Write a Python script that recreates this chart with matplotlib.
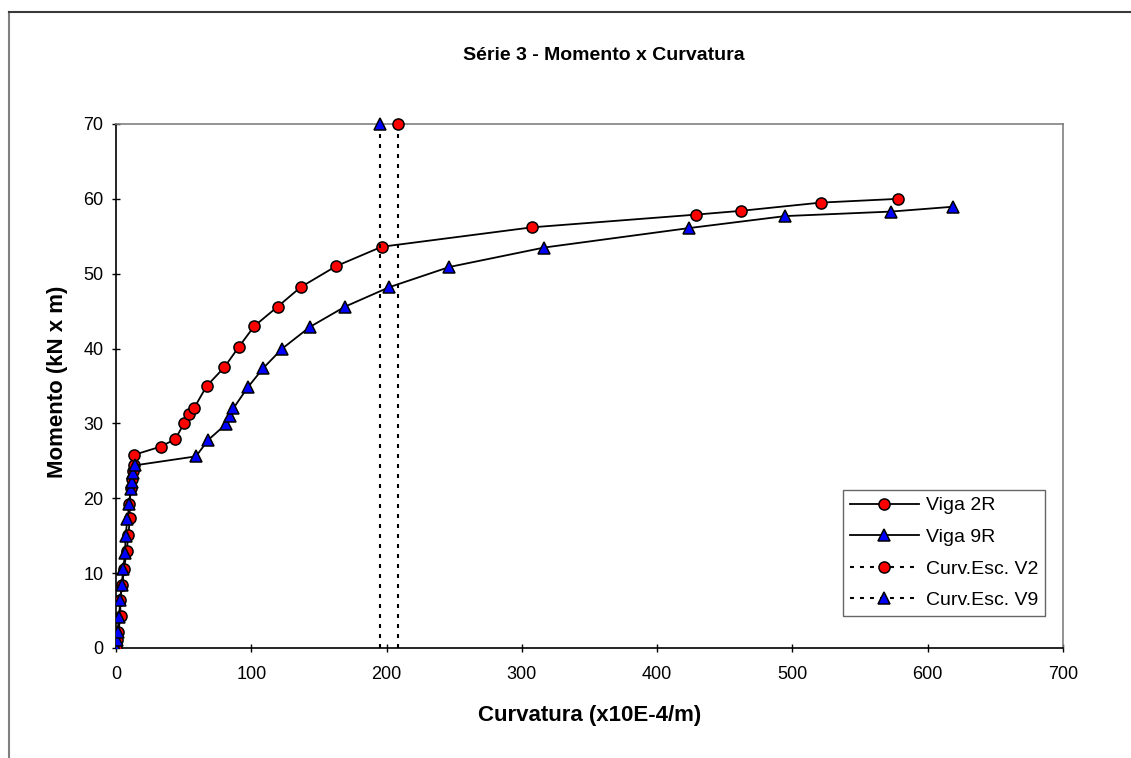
import matplotlib
matplotlib.use("Agg")
import matplotlib.pyplot as plt
from matplotlib.lines import Line2D

# Viga 2R: curvature (x10E-4/m) and moment (kN x m)
v2_curv = [0, 0.5, 1.7, 3.4, 3.0, 4.7, 5.9, 7.9, 9.1, 10.3, 9.9, 10.8, 11.8, 12.4,
           13.0, 13.3, 33.0, 43.8, 50.3, 53.7, 57.9, 67.0, 80.1, 90.7, 102.2,
           119.5, 136.5, 162.6, 196.4, 307.7, 429.0, 462.0, 521.0, 578.0]
v2_mom = [0, 1.1, 2.2, 4.3, 6.4, 8.4, 10.6, 12.9, 15.1, 17.3, 19.3, 21.4, 22.6, 23.6,
          24.5, 25.8, 26.9, 27.9, 30.0, 31.2, 32.1, 35.0, 37.5, 40.2, 43.0,
          45.6, 48.2, 51.0, 53.6, 56.2, 57.9, 58.4, 59.5, 60.0]

# Viga 9R
v9_curv = [0, 0.5, 1.2, 2.2, 3.2, 4.2, 5.4, 6.7, 7.1, 8.4, 9.9, 11.1, 11.6, 12.8,
           14.0, 59.1, 68.2, 81.3, 84.3, 86.7, 97.3, 108.9, 122.9, 143.4, 169.3,
           202.0, 246.4, 316.6, 423.7, 494.7, 572.8, 618.9]
v9_mom = [0, 1.1, 2.2, 4.2, 6.4, 8.4, 10.6, 12.7, 15.0, 17.2, 19.2, 21.3, 22.2, 23.4,
          24.4, 25.6, 27.8, 29.9, 31.0, 32.0, 34.8, 37.4, 40.0, 42.9, 45.6,
          48.2, 50.9, 53.5, 56.1, 57.7, 58.3, 58.95]

# Yield curvature markers (vertical reference lines)
esc_v2_curv = [208.4, 208.4]
esc_v9_curv = [195.4, 195.4]
esc_mom = [0, 70]

x_ticks = [0, 100, 200, 300, 400, 500, 600, 700]
y_ticks = [0, 10, 20, 30, 40, 50, 60, 70]

plt.rcParams['font.family'] = ['Liberation Sans', 'DejaVu Sans']

W, H = 1131, 758
fig = plt.figure(figsize=(W / 100, H / 100), dpi=100)
fig.patch.set_facecolor('white')

left, right, top, bottom = 116, 1063, 124, 648
ax = fig.add_axes([left / W, 1 - bottom / H, (right - left) / W, (bottom - top) / H])

ms = 8.0
lw = 1.3
dots = (0, (1.9, 2.9))
red = '#ff0000'
blue = '#0000ff'

ax.plot(v2_curv, v2_mom, color='black', lw=lw, marker='o', ms=ms,
        mfc=red, mec='black', mew=1.1, label='Viga 2R', zorder=3)
ax.plot(v9_curv, v9_mom, color='black', lw=lw, marker='^', ms=ms,
        mfc=blue, mec='black', mew=1.1, label='Viga 9R', zorder=4)
ax.plot(esc_v2_curv, esc_mom, color='black', lw=1.5, ls=dots, marker='o', ms=ms,
        mfc=red, mec='black', mew=1.1, markevery=[1], label='Curv.Esc. V2',
        clip_on=False, zorder=5)
ax.plot(esc_v9_curv, esc_mom, color='black', lw=1.5, ls=dots, marker='^', ms=ms,
        mfc=blue, mec='black', mew=1.1, markevery=[1], label='Curv.Esc. V9',
        clip_on=False, zorder=5)

ax.set_xlim(0, 700)
ax.set_ylim(0, 70)
ax.set_xticks(x_ticks)
ax.set_yticks(y_ticks)
ax.tick_params(direction='inout', length=6, width=1, labelsize=13, colors='black')
ax.tick_params(axis='x', pad=10)
ax.tick_params(axis='y', pad=6)

for side in ('left', 'bottom'):
    ax.spines[side].set_color('black')
    ax.spines[side].set_linewidth(1.2)
for side in ('top', 'right'):
    ax.spines[side].set_color('#808080')
    ax.spines[side].set_linewidth(1.2)

fig.text(604 / W, 1 - 56 / H, 'Série 3 - Momento x Curvatura', ha='center', va='center',
         fontsize=14, fontweight='bold')
fig.text(589.5 / W, 1 - 715 / H, 'Curvatura (x10E-4/m)', ha='center', va='center',
         fontsize=16, fontweight='bold')
fig.text(58 / W, 1 - 382 / H, 'Momento (kN x m)', ha='center', va='center',
         rotation=90, fontsize=16, fontweight='bold')

leg = ax.legend(loc='upper left', bbox_to_anchor=(843 / W, 1 - 490 / H),
                bbox_transform=fig.transFigure, fontsize=14, frameon=True,
                fancybox=False, shadow=False, borderpad=0.35, labelspacing=0.72,
                handlelength=3.55, handletextpad=0.36, borderaxespad=0)
leg.get_frame().set_edgecolor('#404040')
leg.get_frame().set_linewidth(1.0)

# outer chart border (left and top edges)
fig.add_artist(Line2D([8.5 / W, 8.5 / W], [0, 1 - 11.5 / H], transform=fig.transFigure,
                      color='#7f7f7f', lw=1.5))
fig.add_artist(Line2D([8.5 / W, 1], [1 - 11.5 / H, 1 - 11.5 / H], transform=fig.transFigure,
                      color='#3a3a3a', lw=1.5))

fig.savefig('out.png', dpi=100)
